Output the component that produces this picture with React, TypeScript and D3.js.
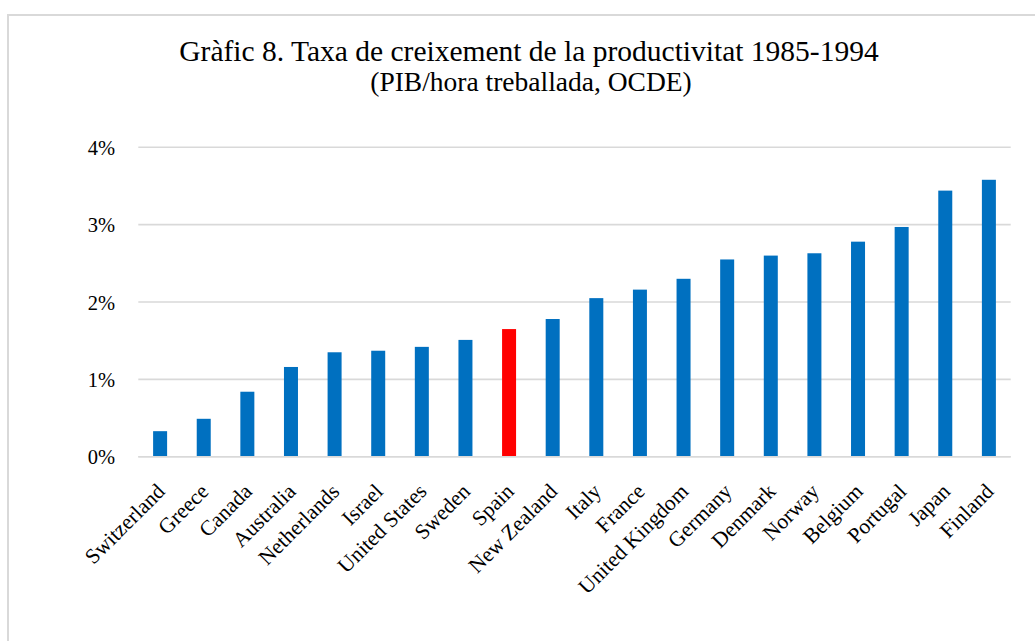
import React from "react";
import * as d3 from "d3";

const countries = [
  "Switzerland", "Greece", "Canada", "Australia", "Netherlands", "Israel",
  "United States", "Sweden", "Spain", "New Zealand", "Italy", "France",
  "United Kingdom", "Germany", "Denmark", "Norway", "Belgium", "Portugal",
  "Japan", "Finland",
];
const growth = [
  0.33, 0.49, 0.84, 1.16, 1.35, 1.37, 1.42, 1.51, 1.65, 1.78, 2.05, 2.16,
  2.30, 2.55, 2.60, 2.63, 2.78, 2.97, 3.44, 3.58,
];
const yTicks = [0, 1, 2, 3, 4];
const highlight = "Spain";
const titleText = "Gràfic 8. Taxa de creixement de la productivitat 1985-1994";
const subtitleText = "(PIB/hora treballada, OCDE)";

export default function App() {
  const W = 1035;
  const H = 641;
  const left = 138.3;
  const right = 1010.7;
  const top = 147.3;
  const bottom = 456.7;

  const x = d3.scaleBand<string>().domain(countries).range([left, right]).paddingInner(0.679).paddingOuter(0.3395);
  const y = d3.scaleLinear().domain([0, 4]).range([bottom, top]);
  const font = "'Liberation Serif', 'Times New Roman', serif";

  return (
    <svg width={W} height={H} style={{ position: "absolute", left: 0, top: 0 }} fontFamily={font}>
      <rect x={0} y={0} width={W} height={H} fill="#fff" />
      <rect x={8} y={15} width={1100} height={700} fill="none" stroke="#D9D9D9" strokeWidth={2} />
      <text x={529} y={61} textAnchor="middle" fontSize={29.5} fill="#000">{titleText}</text>
      <text x={531} y={91} textAnchor="middle" fontSize={27.5} fill="#000">{subtitleText}</text>
      {yTicks.map((t) => (
        <g key={t}>
          <line x1={left} x2={right} y1={y(t)} y2={y(t)} stroke="#D9D9D9" strokeWidth={1.6} />
          <text x={115} y={y(t) + 7.5} textAnchor="end" fontSize={20.5} fill="#000">{`${t}%`}</text>
        </g>
      ))}
      {countries.map((c, i) => (
        <rect
          key={c}
          x={x(c)}
          y={y(growth[i])}
          width={x.bandwidth()}
          height={y(0) - y(growth[i])}
          fill={c === highlight ? "#FF0000" : "#0070C0"}
        />
      ))}
      <line x1={left} x2={right} y1={y(0)} y2={y(0)} stroke="#D9D9D9" strokeWidth={1.6} />
      {countries.map((c) => {
        const cx = (x(c) as number) + x.bandwidth() / 2;
        return (
          <text
            key={c}
            transform={`translate(${cx + 6},${bottom + 36}) rotate(-45)`}
            textAnchor="end"
            fontSize={21.5}
            fill="#000"
          >
            {c}
          </text>
        );
      })}
    </svg>
  );
}
